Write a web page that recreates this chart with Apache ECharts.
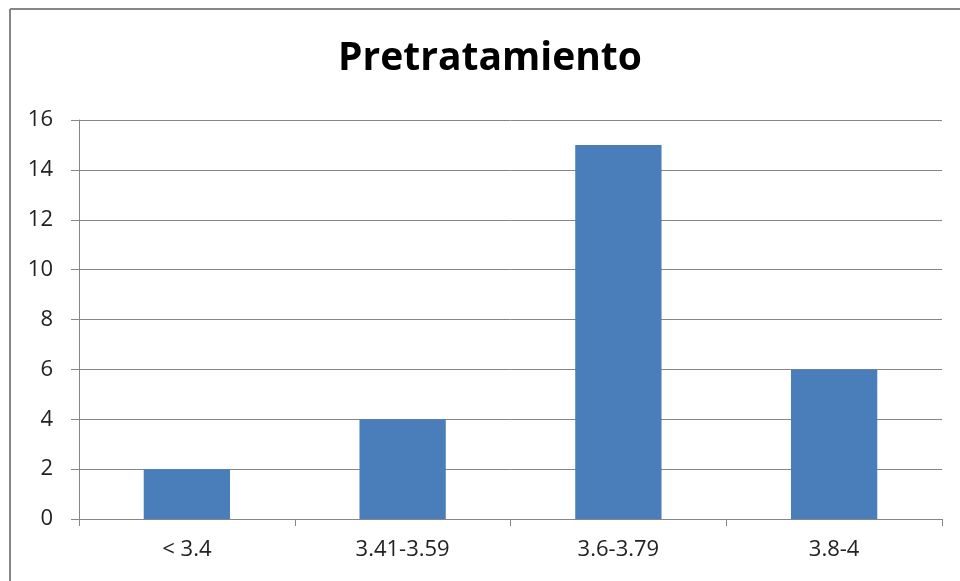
<!DOCTYPE html>
<html>
<head>
<meta charset="utf-8">
<script src="https://cdn.jsdelivr.net/npm/echarts@6/dist/echarts.min.js"></script>
<style>
html,body{margin:0;padding:0;background:#fff;}
#c{width:960px;height:581px;}
</style>
</head>
<body>
<div id="c"></div>
<script>
const categories = ['< 3.4', '3.41-3.59', '3.6-3.79', '3.8-4'];
const counts = [2, 4, 15, 6];
const yTicks = { min: 0, max: 16, interval: 2 };
const titleText = 'Pretratamiento';

const chart = echarts.init(document.getElementById('c'), null, { renderer: 'canvas' });
chart.setOption({
  animation: false,
  backgroundColor: '#ffffff',
  title: {
    text: titleText,
    left: 485,
    textAlign: 'center',
    top: 34,
    textStyle: { fontFamily: 'Open Sans', fontWeight: 'bold', fontSize: 39, color: '#000' }
  },
  graphic: [
    { type: 'line', shape: { x1: 10, y1: 9, x2: 960, y2: 9 }, style: { stroke: '#868686', lineWidth: 2 } },
    { type: 'line', shape: { x1: 10, y1: 9, x2: 10, y2: 581 }, style: { stroke: '#868686', lineWidth: 2 } }
  ],
  grid: { left: 79, right: 18, top: 120, bottom: 62, containLabel: false },
  xAxis: {
    type: 'category',
    data: categories,
    axisLine: { lineStyle: { color: '#868686', width: 1 } },
    axisTick: { show: true, alignWithLabel: false, length: 7, lineStyle: { color: '#868686' } },
    axisLabel: { fontFamily: 'Open Sans', fontSize: 22, color: '#222', margin: 20 }
  },
  yAxis: {
    type: 'value',
    min: yTicks.min, max: yTicks.max, interval: yTicks.interval,
    axisLine: { show: true, lineStyle: { color: '#868686', width: 1 } },
    axisTick: { show: true, length: 8, inside: false, lineStyle: { color: '#868686' } },
    splitLine: { show: true, lineStyle: { color: '#868686', width: 1 } },
    axisLabel: { fontFamily: 'Open Sans', fontSize: 22, color: '#222', margin: 26 }
  },
  series: [{
    type: 'bar',
    data: counts,
    barWidth: '40%',
    itemStyle: { color: '#4a7ebb' }
  }]
});
</script>
</body>
</html>
